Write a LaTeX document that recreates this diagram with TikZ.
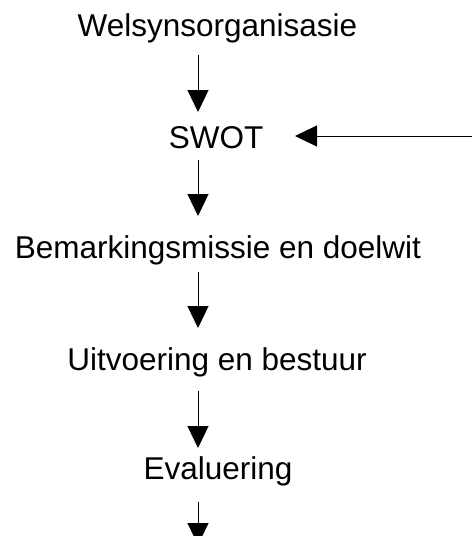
\documentclass[tikz,border=0pt]{standalone}
\usepackage{fontspec}
\setmainfont{Liberation Sans}
\usetikzlibrary{arrows.meta,calc}
\begin{document}
\begin{tikzpicture}[x=1pt,y=-1pt,
  lbl/.style={anchor=base,inner sep=0pt,font=\fontsize{31.5}{36}\selectfont},
  arr/.style={line width=1pt,-{Triangle[length=22pt,width=21pt]}}]
\useasboundingbox (0,0) rectangle (472,536);
\clip (0,0) rectangle (472,536);
\coordinate (ax) at (198,0);
\node[lbl] (w) at (217.5,36) {Welsynsorganisasie};
\node[lbl] (s) at (216,148) {SWOT};
\node[lbl] (b) at (218,258) {Bemarkingsmissie en doelwit};
\node[lbl] (u) at (217,370) {Uitvoering en bestuur};
\node[lbl] (e) at (218,479) {Evaluering};
\coordinate (r) at (472,136);
\coordinate (end) at (198,545);
\draw[arr] ($(w.base -| ax)+(0,19)$) -- ($(s.base -| ax)+(0,-36)$);
\draw[arr] ($(s.base -| ax)+(0,12)$) -- ($(b.base -| ax)+(0,-42)$);
\draw[arr] ($(b.base -| ax)+(0,14)$) -- ($(u.base -| ax)+(0,-42)$);
\draw[arr] ($(u.base -| ax)+(0,21)$) -- ($(e.base -| ax)+(0,-31)$);
\draw[arr] ($(e.base -| ax)+(0,23)$) -- (end);
\draw[arr] (r) -- ($(s.base)+(79,-12)$);
\end{tikzpicture}
\end{document}
